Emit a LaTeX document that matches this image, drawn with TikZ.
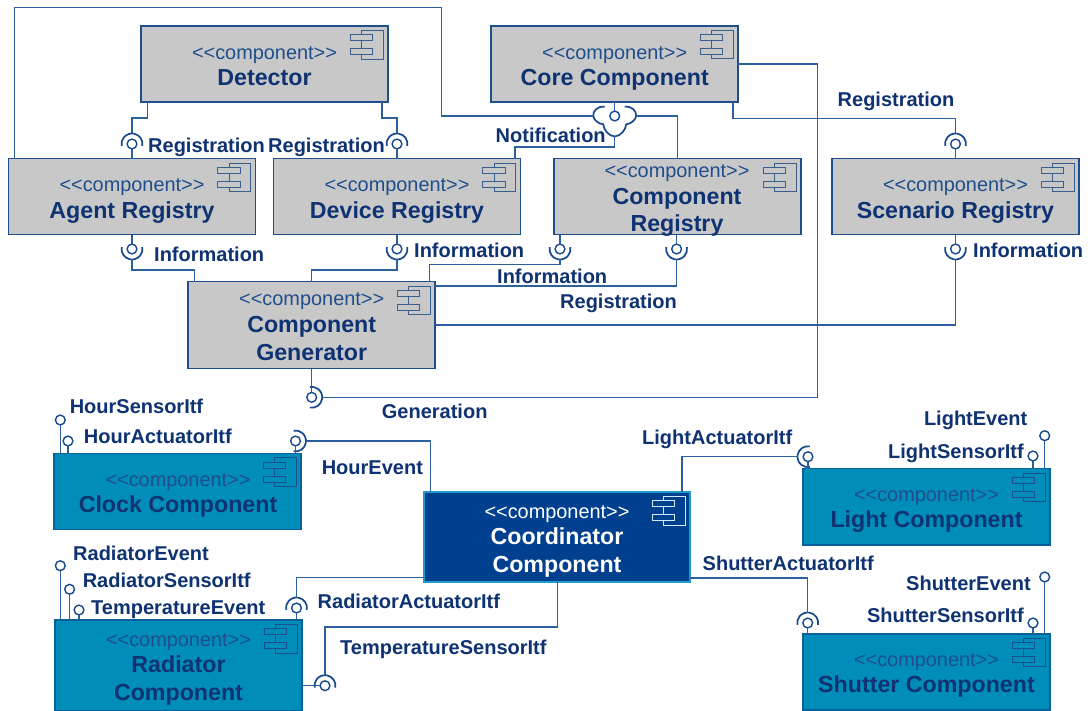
\documentclass[tikz,border=0pt]{standalone}
\usepackage{fontspec}
\setmainfont{Liberation Sans}
\definecolor{wirec}{HTML}{2C5F9E}
\definecolor{sockc}{HTML}{17498C}
\definecolor{navy}{HTML}{0E3272}
\definecolor{grayfill}{HTML}{C8C8C8}
\definecolor{tealfill}{HTML}{018DBA}
\definecolor{deepfill}{HTML}{00408F}
\definecolor{edgec}{HTML}{1F4E8C}
\definecolor{tealedge}{HTML}{0B5F9A}
\definecolor{deepedge}{HTML}{1E9CCB}
\definecolor{iconc}{HTML}{3A5E8E}
\newcommand{\stereotext}{<{}<component>{}>}
\tikzset{
  x=1pt,y=-1pt,
  graybox/.style={draw=edgec,fill=grayfill,line width=1.6pt,minimum width=247pt,minimum height=76pt,inner sep=0pt,outer sep=0pt},
  tealbox/.style={draw=tealedge,fill=tealfill,line width=1.6pt,minimum width=247pt,minimum height=76pt,inner sep=0pt,outer sep=0pt},
  deepbox/.style={draw=deepedge,fill=deepfill,line width=1.6pt,minimum width=266pt,minimum height=90pt,inner sep=0pt,outer sep=0pt},
  stereo/.style={anchor=base,inner sep=0pt,yshift=-0.8pt,font=\fontsize{19.9}{20}\selectfont,text=#1},
  stereo/.default=edgec,
  cname/.style={anchor=base,inner sep=0pt,yshift=-0.8pt,font=\fontsize{23.2}{24}\bfseries\selectfont,text=#1},
  cname/.default=navy,
  lbl/.style={anchor=base west,inner sep=0pt,yshift=-0.8pt,font=\fontsize{20}{21}\bfseries\selectfont,text=navy},
  wire/.style={draw=wirec,line width=1.5pt,line join=miter},
  sockline/.style={draw=sockc,line width=1.7pt},
  ball/.style={circle,draw=sockc,fill=white,line width=1.4pt,minimum size=9.8pt,inner sep=0pt,outer sep=0pt},
}
\newcommand{\sock}[2]{\draw[sockline] ([shift={(#2-100:10.5pt)}]#1.center) arc[start angle=#2-100,end angle=#2+100,radius=10.5pt];}
\newcommand{\compicon}[3]{%
  \draw[#3,line width=1pt] ([xshift=-26.4pt,yshift=-4.5pt]#1.north east) rectangle ([xshift=-5pt,yshift=-33pt]#1.north east);
  \draw[#3,fill=#2,line width=1pt] ([xshift=-38pt,yshift=-8.7pt]#1.north east) rectangle ([xshift=-15.4pt,yshift=-14.7pt]#1.north east);
  \draw[#3,fill=#2,line width=1pt] ([xshift=-38pt,yshift=-22.7pt]#1.north east) rectangle ([xshift=-15.4pt,yshift=-28.7pt]#1.north east);
}
\begin{document}
\begin{tikzpicture}
\useasboundingbox (0,0) rectangle (1088,711);
\fill[white] (0,0) rectangle (1088,711);
% boxes
\node[graybox] (det) at (264.5,64.3) {};
\node[graybox] (core) at (614.7,64) {};
\node[graybox] (agent) at (132,196.7) {};
\node[graybox] (dev) at (397,196.7) {};
\node[graybox] (creg) at (677.5,196.7) {};
\node[graybox] (scen) at (955.5,196.7) {};
\node[graybox,minimum height=87pt] (gen) at (311.7,325.2) {};
\node[tealbox] (clock) at (177.7,491.5) {};
\node[tealbox,minimum height=90.5pt] (rad) at (178.5,665.3) {};
\node[deepbox] (coord) at (557,537) {};
\node[tealbox] (light) at (926.5,506.7) {};
\node[tealbox] (shut) at (926.5,671.7) {};
\compicon{det}{grayfill}{iconc}
\compicon{core}{grayfill}{iconc}
\compicon{agent}{grayfill}{iconc}
\compicon{dev}{grayfill}{iconc}
\compicon{creg}{grayfill}{iconc}
\compicon{scen}{grayfill}{iconc}
\compicon{gen}{grayfill}{iconc}
\compicon{clock}{tealfill}{edgec}
\compicon{rad}{tealfill}{edgec}
\compicon{light}{tealfill}{edgec}
\compicon{shut}{tealfill}{edgec}
\compicon{coord}{deepfill}{white!80!deepedge}
% box texts
\node[stereo] (detS) at (264.5,58.7) {\stereotext};
\node[cname] (detN) at (264.5,84.7) {Detector};
\node[stereo] (coreS) at (614.7,58.7) {\stereotext};
\node[cname] (coreN) at (614.7,84.7) {Core Component};
\node[stereo] (agentS) at (132,191) {\stereotext};
\node[cname] (agentN) at (132,217.3) {Agent Registry};
\node[stereo] (devS) at (397,191) {\stereotext};
\node[cname] (devN) at (397,217.3) {Device Registry};
\node[stereo] (cregS) at (677,176.7) {\stereotext};
\node[cname] (cregN) at (677,203.3) {Component};
\node[cname] (cregM) at (677,230.7) {Registry};
\node[stereo] (scenS) at (955.5,191) {\stereotext};
\node[cname] (scenN) at (955.5,217.3) {Scenario Registry};
\node[stereo] (genS) at (311.7,305) {\stereotext};
\node[cname] (genN) at (311.7,331.7) {Component};
\node[cname] (genM) at (311.7,359.7) {Generator};
\node[stereo] (clockS) at (178,485.7) {\stereotext};
\node[cname] (clockN) at (178,512) {Clock Component};
\node[stereo] (radS) at (178.5,645.7) {\stereotext};
\node[cname] (radN) at (178.5,671.7) {Radiator};
\node[cname] (radM) at (178.5,700) {Component};
\node[stereo=white] (coordS) at (557,517.3) {\stereotext};
\node[cname=white] (coordN) at (557,543.3) {Coordinator};
\node[cname=white] (coordM) at (557,571.3) {Component};
\node[stereo] (lightS) at (926.5,500.7) {\stereotext};
\node[cname] (lightN) at (926.5,526.7) {Light Component};
\node[stereo] (shutS) at (926.5,665.7) {\stereotext};
\node[cname] (shutN) at (926.5,692) {Shutter Component};
% balls
\node[ball] (bA) at (132,144) {};
\node[ball] (bD) at (397,144) {};
\node[ball] (bS) at (955.5,144) {};
\node[ball] (bCore) at (614.7,116) {};
\node[ball] (iA) at (132,249) {};
\node[ball] (iD) at (397,249) {};
\node[ball] (iC) at (560,249) {};
\node[ball] (rC) at (676.6,249) {};
\node[ball] (iS) at (955.5,249) {};
\node[ball] (bG) at (311.7,397.3) {};
\node[ball] (bHS) at (60.3,420) {};
\node[ball] (bHA) at (68,441) {};
\node[ball] (bHE) at (295.5,441) {};
\node[ball] (bRE) at (60.3,565.7) {};
\node[ball] (bRS) at (69.6,589.3) {};
\node[ball] (bTE) at (79,610) {};
\node[ball] (bRA) at (296.5,608) {};
\node[ball] (bTS) at (325,685.7) {};
\node[ball] (bLA) at (808,456.7) {};
\node[ball] (bLS) at (1033,456) {};
\node[ball] (bLE) at (1044.7,435.7) {};
\node[ball] (bSA) at (807.7,623) {};
\node[ball] (bSS) at (1033,623) {};
\node[ball] (bSE) at (1044.7,577) {};
% sockets
\sock{bA}{90}\sock{bD}{90}\sock{bS}{90}
\sock{iA}{270}\sock{iD}{270}\sock{iC}{270}\sock{rC}{270}\sock{iS}{270}
\sock{bG}{0}\sock{bHE}{0}\sock{bRA}{90}\sock{bTS}{90}\sock{bLA}{180}\sock{bSA}{90}
\begin{scope}[shift={(bCore.center)},x=1pt,y=1pt]
\draw[sockline] (-10,9.5) .. controls (-17,10) and (-22,5) .. (-21.5,0) .. controls (-21,-4) and (-16,-8) .. (-11.5,-8.3) .. controls (-11,-14) and (-6,-20) .. (0,-20.5) .. controls (6,-20) and (11,-14) .. (11.5,-8.3) .. controls (16,-8) and (21,-4) .. (21.5,0) .. controls (22,5) and (17,10) .. (10,9.5);
\end{scope}
% connectors
\draw[wire] (147.4,0 |- det.south) |- (132,118) -- ([yshift=10.5pt]bA.center);
\draw[wire] (bA.south) -- (bA |- agent.north);
\draw[wire] (382,0 |- det.south) |- (397,118) -- ([yshift=10.5pt]bD.center);
\draw[wire] (bD.south) -- (bD |- dev.north);
\draw[wire] (14.5,0 |- agent.north) |- (441.5,7.3) |- ([xshift=-21.5pt]bCore.center);
\draw[wire] ([xshift=21.5pt]bCore.center) -| (creg.north);
\draw[wire] ([yshift=-20.5pt]bCore.center) |- (515,147) -- (515,0 |- dev.north);
\draw[wire] (core.south) -- (bCore.north);
\draw[wire] (732.8,0 |- core.south) |- (955.5,118.7) -- ([yshift=10.5pt]bS.center);
\draw[wire] (bS.south) -- (bS |- scen.north);
\draw[wire] (iA.north) -- (iA |- agent.south);
\draw[wire] ([yshift=-10.5pt]iA.center) |- (194.6,270) -- (194.6,0 |- gen.north);
\draw[wire] (iD.north) -- (iD |- dev.south);
\draw[wire] ([yshift=-10.5pt]iD.center) |- (311.7,270) -- (gen.north);
\draw[wire] (iC.north) -- (iC |- creg.south);
\draw[wire] ([yshift=-10.5pt]iC.center) |- (429.3,264.5) -- (429.3,0 |- gen.north);
\draw[wire] (rC.north) -- (rC |- creg.south);
\draw[wire] ([yshift=-10.5pt]rC.center) |- (gen.east |- 0,286);
\draw[wire] (iS.north) -- (iS |- scen.south);
\draw[wire] ([yshift=-10.5pt]iS.center) |- (gen.east |- 0,325);
\draw[wire] (gen.south) -- (bG.north);
\draw[wire] (core.east) -| (817.7,397.3) -- ([xshift=10.5pt]bG.center);
\draw[wire] (bHS.south) -- (bHS |- clock.north);
\draw[wire] (bHA.south) -- (bHA |- clock.north);
\draw[wire] (bHE.south) -- (bHE |- clock.north);
\draw[wire] ([xshift=10.5pt]bHE.center) -| (430.4,0 |- coord.north);
\draw[wire] (bRE.south) -- (bRE |- rad.north);
\draw[wire] (bRS.south) -- (bRS |- rad.north);
\draw[wire] (bTE.south) -- (bTE |- rad.north);
\draw[wire] (bRA.south) -- (bRA |- rad.north);
\draw[wire] (coord.west |- 0,577.3) -| ([yshift=10.5pt]bRA.center);
\draw[wire] (rad.east |- bTS) -- (bTS.west);
\draw[wire] ([yshift=10.5pt]bTS.center) |- (557.5,627) -- (557.5,0 |- coord.south);
\draw[wire] (682,0 |- coord.north) |- ([xshift=-10.5pt]bLA.center);
\draw[wire] (bLA.south) -- (bLA |- light.north);
\draw[wire] (bLS.south) -- (bLS |- light.north);
\draw[wire] (bLE.south) -- (bLE |- light.north);
\draw[wire] (coord.east |- 0,578) -| ([yshift=10.5pt]bSA.center);
\draw[wire] (bSA.south) -- (bSA |- shut.north);
\draw[wire] (bSS.south) -- (bSS |- shut.north);
\draw[wire] (bSE.south) -- (bSE |- shut.north);
% labels
\node[lbl] (l1) at (148,152) {Registration};
\node[lbl] (l2) at (268,152) {Registration};
\node[lbl] (l3) at (495.5,141.7) {Notification};
\node[lbl] (l4) at (154,260.7) {Information};
\node[lbl] (l5) at (414,256.7) {Information};
\node[lbl] (l6) at (497,282.7) {Information};
\node[lbl] (l7) at (560,307.3) {Registration};
\node[lbl] (l8) at (973,256.7) {Information};
\node[lbl] (l9) at (837.5,106) {Registration};
\node[lbl] (l10) at (381.7,418) {Generation};
\node[lbl] (l11) at (69.6,412.3) {HourSensorItf};
\node[lbl] (l12) at (83.7,442.3) {HourActuatorItf};
\node[lbl] (l13) at (321.6,473.3) {HourEvent};
\node[lbl] (l14) at (73,559.7) {RadiatorEvent};
\node[lbl] (l15) at (82.6,586.3) {RadiatorSensorItf};
\node[lbl] (l16) at (91,613.3) {TemperatureEvent};
\node[lbl] (l17) at (317.5,607.7) {RadiatorActuatorItf};
\node[lbl] (l18) at (340,653.7) {TemperatureSensorItf};
\node[lbl] (l19) at (642,444) {LightActuatorItf};
\node[lbl] (l20) at (923.8,424.3) {LightEvent};
\node[lbl] (l21) at (888,457.3) {LightSensorItf};
\node[lbl] (l22) at (702.5,570) {ShutterActuatorItf};
\node[lbl] (l23) at (906,590) {ShutterEvent};
\node[lbl] (l24) at (866.8,621.7) {ShutterSensorItf};
\end{tikzpicture}
\end{document}
